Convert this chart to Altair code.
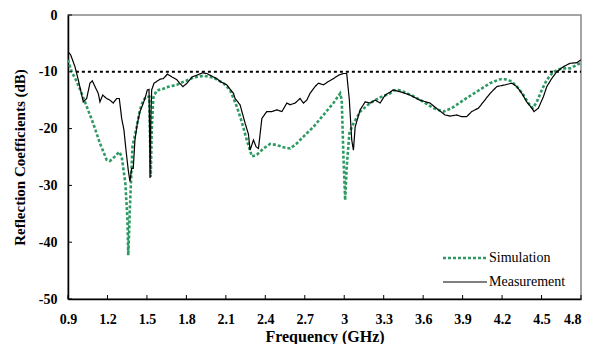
import altair as alt
import pandas as pd

sim_f = [0.90, 0.928, 0.966, 1.004, 1.042, 1.092, 1.143, 1.194, 1.219, 1.257, 1.29, 1.308, 1.336, 1.352,
         1.358, 1.365, 1.371, 1.39, 1.422, 1.447, 1.472, 1.498, 1.518, 1.529, 1.537, 1.549, 1.574, 1.625,
         1.65, 1.728, 1.751, 1.828, 1.853, 1.929, 1.98, 2.005, 2.057, 2.081, 2.132, 2.183, 2.221, 2.259,
         2.298, 2.336, 2.386, 2.437, 2.488, 2.539, 2.589, 2.64, 2.69, 2.766, 2.842, 2.918, 2.969, 2.981,
         2.994, 3.007, 3.019, 3.039, 3.07, 3.121, 3.197, 3.273, 3.349, 3.374, 3.412, 3.45, 3.526, 3.602,
         3.678, 3.754, 3.817, 3.906, 4.007, 4.109, 4.185, 4.223, 4.274, 4.324, 4.362, 4.4, 4.434, 4.464,
         4.502, 4.54, 4.59, 4.653, 4.717, 4.767, 4.8]
sim_db = [-7.9, -10.0, -11.7, -13.8, -16.1, -19.1, -22.6, -25.5, -25.7, -24.9, -24.1, -24.9, -29.6, -36.0,
          -42.3, -38.0, -33.7, -23.2, -19.7, -16.7, -15.0, -14.4, -14.4, -28.5, -20.0, -14.5, -13.3, -13.0,
          -12.7, -12.3, -12.0, -11.3, -11.0, -10.7, -10.9, -11.0, -11.7, -12.0, -13.2, -16.1, -18.8, -22.0,
          -24.9, -24.6, -23.5, -22.7, -22.9, -23.3, -23.5, -22.6, -21.4, -19.7, -17.6, -15.5, -13.8, -15.0,
          -24.9, -32.6, -26.7, -20.8, -19.1, -17.0, -15.5, -14.5, -13.8, -13.3, -13.2, -13.5, -14.3, -15.3,
          -16.4, -17.0, -16.4, -15.0, -13.5, -12.0, -11.3, -11.3, -11.7, -12.9, -14.1, -15.5, -16.4, -15.3,
          -13.2, -11.4, -10.0, -9.4, -9.4, -8.8, -8.4]

meas_f = [0.90, 0.92, 0.953, 0.978, 1.016, 1.042, 1.067, 1.085, 1.105, 1.13, 1.143, 1.164, 1.194, 1.219,
          1.244, 1.27, 1.29, 1.308, 1.325, 1.341, 1.358, 1.371, 1.384, 1.396, 1.409, 1.427, 1.447, 1.468,
          1.485, 1.503, 1.516, 1.52, 1.524, 1.53, 1.536, 1.554, 1.574, 1.6, 1.625, 1.656, 1.69, 1.728,
          1.748, 1.774, 1.805, 1.843, 1.88, 1.92, 1.955, 2.005, 2.031, 2.057, 2.107, 2.158, 2.17, 2.208,
          2.247, 2.272, 2.284, 2.31, 2.33, 2.348, 2.374, 2.411, 2.45, 2.488, 2.526, 2.564, 2.589, 2.627,
          2.664, 2.69, 2.715, 2.74, 2.778, 2.804, 2.842, 2.88, 2.918, 2.956, 2.994, 3.019, 3.039, 3.057,
          3.07, 3.083, 3.121, 3.159, 3.197, 3.235, 3.273, 3.311, 3.374, 3.424, 3.5, 3.576, 3.652, 3.716,
          3.767, 3.805, 3.855, 3.893, 3.931, 3.969, 4.02, 4.058, 4.109, 4.16, 4.223, 4.274, 4.312, 4.35,
          4.388, 4.426, 4.443, 4.476, 4.514, 4.54, 4.577, 4.615, 4.666, 4.717, 4.767, 4.8]
meas_db = [-6.5, -7.0, -9.1, -11.4, -15.3, -14.7, -12.0, -11.6, -12.6, -13.8, -15.3, -14.1, -14.7, -15.0,
           -15.5, -14.7, -14.7, -18.2, -20.2, -23.8, -27.3, -29.3, -27.0, -27.0, -22.0, -19.1, -17.0, -15.8,
           -14.7, -13.2, -13.1, -20.0, -28.7, -18.0, -13.2, -12.0, -11.7, -11.3, -11.2, -10.4, -10.9, -11.4,
           -12.0, -12.6, -12.0, -10.9, -10.6, -10.2, -10.3, -10.9, -11.2, -11.7, -12.3, -13.8, -14.7, -15.8,
           -19.1, -21.0, -23.8, -22.0, -23.2, -23.5, -18.2, -17.0, -17.0, -16.7, -17.0, -15.5, -15.8, -15.5,
           -14.7, -15.5, -15.0, -13.8, -12.6, -12.0, -12.3, -11.7, -11.2, -10.6, -10.3, -10.3, -15.0, -22.0,
           -23.8, -19.7, -16.7, -15.3, -15.5, -15.0, -15.5, -14.1, -13.2, -13.5, -14.1, -15.0, -15.5, -16.7,
           -17.6, -17.8, -17.6, -17.9, -17.9, -17.0, -16.4, -15.3, -13.8, -12.6, -12.3, -12.0, -12.6, -13.8,
           -15.3, -16.4, -17.0, -16.4, -14.4, -12.6, -11.2, -10.0, -9.1, -8.5, -8.4, -7.9]

ref_f = [0.96, 4.8]
ref_db = [-10, -10]

x_ticks = [0.9, 1.2, 1.5, 1.8, 2.1, 2.4, 2.7, 3, 3.3, 3.6, 3.9, 4.2, 4.5, 4.8]
y_ticks = [-50, -40, -30, -20, -10, 0]
series = ["Simulation", "Measurement"]

df = pd.concat([
    pd.DataFrame({"f": sim_f, "db": sim_db, "series": series[0]}),
    pd.DataFrame({"f": meas_f, "db": meas_db, "series": series[1]}),
])
ref = pd.DataFrame({"f": ref_f, "db": ref_db})
xt = pd.DataFrame({"f": x_ticks})
yt = pd.DataFrame({"db": y_ticks})

SERIF = "Liberation Serif"
GREEN = "#2e9a63"

xscale = alt.Scale(domain=[0.9, 4.8], nice=False, zero=False)
yscale = alt.Scale(domain=[-50, 0], nice=False)
xaxis = alt.Axis(values=x_ticks, labelExpr="toString(datum.value)", title="Frequency (GHz)",
                 ticks=False, grid=False, labelPadding=13, labelOverlap=False, labelFlush=False,
                 labelBound=False, titleY=42, titleBaseline="alphabetic",
                 labelAlign={"condition": {"test": "datum.value >= 4.79", "value": "right"},
                             "value": "center"})
yaxis = alt.Axis(values=y_ticks, labelExpr="toString(datum.value)",
                 title="Reflection Coefficients (dB)", ticks=False, titleFontSize=15,
                 grid=False, labelPadding=11, titlePadding=11, labelOverlap=False,
                 labelFlush=False, labelBound=False)

X = alt.X("f:Q", scale=xscale, axis=xaxis)
Y = alt.Y("db:Q", scale=yscale, axis=yaxis)

lines = alt.Chart(df).mark_line(clip=True).encode(
    x=X, y=Y,
    color=alt.Color("series:N", scale=alt.Scale(domain=series, range=[GREEN, "black"]), legend=None),
    strokeDash=alt.StrokeDash("series:N", scale=alt.Scale(domain=series, range=[[3, 2], [1, 0]]),
                              legend=None),
    strokeWidth=alt.StrokeWidth("series:N", scale=alt.Scale(domain=series, range=[2.6, 1.2]),
                                legend=None),
    order=alt.Order("f:Q"),
)

ref_line = alt.Chart(ref).mark_line(color="black", strokeDash=[3, 3], strokeWidth=2).encode(x=X, y=Y)

xtick_marks = alt.Chart(xt).mark_rule(color="black", strokeWidth=1).encode(
    x=X, y=alt.value(284), y2=alt.value(280))
ytick_marks = alt.Chart(yt).mark_rule(color="black", strokeWidth=1).encode(
    y=Y, x=alt.value(0), x2=alt.value(4))

# legend (manual, inside the plot at bottom right)
leg_sim = pd.DataFrame({"s": [series[0]]})
leg_meas = pd.DataFrame({"s": [series[1]]})
leg1_line = alt.Chart(leg_sim).mark_rule(color=GREEN, strokeDash=[3, 2], strokeWidth=2.6).encode(
    x=alt.value(375), x2=alt.value(419), y=alt.value(243))
leg1_text = alt.Chart(leg_sim).mark_text(align="left", baseline="middle", font=SERIF, fontSize=14,
                                         color="black").encode(
    text="s:N", x=alt.value(421), y=alt.value(243))
leg2_line = alt.Chart(leg_meas).mark_rule(color="black", strokeWidth=1.2).encode(
    x=alt.value(375), x2=alt.value(419), y=alt.value(267))
leg2_text = alt.Chart(leg_meas).mark_text(align="left", baseline="middle", font=SERIF, fontSize=14,
                                          color="black").encode(
    text="s:N", x=alt.value(421), y=alt.value(267))

chart = alt.layer(lines, ref_line, xtick_marks, ytick_marks,
                  leg1_line, leg1_text, leg2_line, leg2_text).properties(
    width=513, height=284,
    autosize=alt.AutoSizeParams(type="none"),
    padding={"left": 60, "top": 7, "right": 3, "bottom": 45},
).configure_view(stroke="#888888", strokeWidth=1.5).configure_axis(
    domainColor="black", domainWidth=1.5, labelOverlap=False,
    labelFont=SERIF, labelFontSize=14, labelFontWeight="bold", labelColor="black",
    titleFont=SERIF, titleFontSize=16, titleFontWeight="bold", titleColor="black",
)

chart.save("out.html", embed_options={"renderer": "svg", "actions": False})
